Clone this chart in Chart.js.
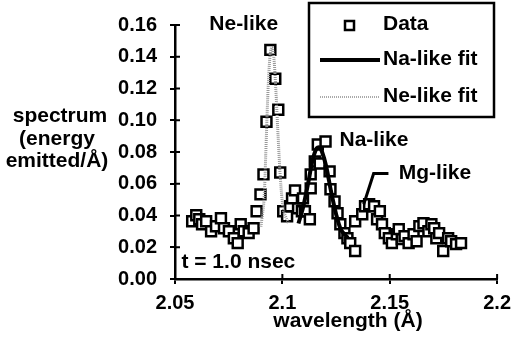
<!DOCTYPE html>
<html lang="en">
<head>
  <meta charset="UTF-8">
  <title>Spectrum at t = 1.0 nsec</title>
  <script src="https://cdn.jsdelivr.net/npm/chart.js"></script>
  <style>
    html, body { margin: 0; padding: 0; background: #fff; }
  </style>
</head>
<body>
  <canvas id="specChart" width="518" height="349"></canvas>
  <script>
    // measured spectrum (wavelength in Å, energy emitted/Å)
    const dataWl = [2.0580, 2.0599, 2.0613, 2.0626, 2.0645, 2.0668, 2.0691, 2.0714, 2.0728, 2.0751,
      2.0774, 2.0792, 2.0806, 2.0820, 2.0843, 2.0866, 2.0880, 2.0898, 2.0912, 2.0926,
      2.0944, 2.0967, 2.0981, 2.0990, 2.1004, 2.1022, 2.1036, 2.1045, 2.1059, 2.1073,
      2.1091, 2.1096, 2.1105, 2.1128, 2.1132, 2.1132, 2.1151, 2.1165, 2.1174, 2.1201,
      2.1220, 2.1224, 2.1243, 2.1257, 2.1270, 2.1289, 2.1303, 2.1316, 2.1339, 2.1339,
      2.1372, 2.1385, 2.1404, 2.1427, 2.1441, 2.1454, 2.1464, 2.1477, 2.1496, 2.1510,
      2.1533, 2.1542, 2.1556, 2.1569, 2.1588, 2.1611, 2.1625, 2.1638, 2.1657, 2.1680,
      2.1694, 2.1707, 2.1717, 2.1730, 2.1749, 2.1772, 2.1786, 2.1809, 2.1832];
    const dataVal = [0.0364, 0.0402, 0.0376, 0.0345, 0.0364, 0.0301, 0.0332, 0.0383, 0.0320, 0.0301,
      0.0257, 0.0226, 0.0345, 0.0301, 0.0289, 0.0320, 0.0427, 0.0533, 0.0659, 0.0991,
      0.1443, 0.1261, 0.1066, 0.0671, 0.0427, 0.0395, 0.0458, 0.0508, 0.0558, 0.0445,
      0.0427, 0.0508, 0.0427, 0.0376, 0.0571, 0.0659, 0.0740, 0.0847, 0.0728, 0.0866,
      0.0678, 0.0565, 0.0489, 0.0414, 0.0345, 0.0289, 0.0257, 0.0226, 0.0176, 0.0364,
      0.0408, 0.0458, 0.0471, 0.0458, 0.0376, 0.0427, 0.0345, 0.0289, 0.0257, 0.0226,
      0.0282, 0.0314, 0.0251, 0.0270, 0.0226, 0.0282, 0.0238, 0.0333, 0.0351, 0.0301,
      0.0345, 0.0320, 0.0257, 0.0289, 0.0176, 0.0257, 0.0238, 0.0220, 0.0226];

    // Na-like fit (solid black)
    const naFitWl = [2.1075, 2.1098, 2.1121, 2.1139, 2.1158, 2.1172, 2.1185, 2.1204, 2.1227, 2.1250, 2.1273, 2.1305];
    const naFitVal = [0.035, 0.046, 0.061, 0.074, 0.082, 0.083, 0.080, 0.071, 0.055, 0.041, 0.031, 0.026];

    // Ne-like fit (grey dotted)
    const neFitWl = [2.0900, 2.0914, 2.0923, 2.0932, 2.0942, 2.0951, 2.0960, 2.0969, 2.0979, 2.0992, 2.1006, 2.1029];
    const neFitVal = [0.033, 0.049, 0.080, 0.115, 0.140, 0.146, 0.140, 0.121, 0.093, 0.061, 0.043, 0.035];

    const xTicks = [2.05, 2.1, 2.15, 2.2];
    const yTicks = [0, 0.02, 0.04, 0.06, 0.08, 0.10, 0.12, 0.14, 0.16];

    const FONT = '"Liberation Sans", Arial, sans-serif';
    const zip = (xs, ys) => xs.map((v, i) => ({ x: v, y: ys[i] }));

    const extras = {
      id: 'extras',
      afterDraw(chart) {
        const ctx = chart.ctx;
        const sx = chart.scales.x, sy = chart.scales.y;
        ctx.save();
        ctx.strokeStyle = '#000';
        ctx.lineWidth = 2;
        // tick marks reaching into the plot too
        yTicks.forEach(v => {
          const py = sy.getPixelForValue(v);
          ctx.beginPath(); ctx.moveTo(sx.left, py); ctx.lineTo(sx.left + 5, py); ctx.stroke();
        });
        xTicks.forEach(v => {
          const px = sx.getPixelForValue(v);
          ctx.beginPath(); ctx.moveTo(px, sy.bottom); ctx.lineTo(px, sy.bottom - 5); ctx.stroke();
        });

        ctx.fillStyle = '#000';
        ctx.font = 'bold 21px ' + FONT;
        ctx.textBaseline = 'middle';
        const P = (wl, v) => [sx.getPixelForValue(wl), sy.getPixelForValue(v)];

        ctx.textAlign = 'center';
        let [a, b] = P(2.0820, 0.1606);
        ctx.fillText('Ne-like', a, b);
        ctx.textAlign = 'left';
        [a, b] = P(2.1266, 0.0872);
        ctx.fillText('Na-like', a, b);
        [a, b] = P(2.1542, 0.0665);
        ctx.fillText('Mg-like', a, b);
        [a, b] = P(2.0530, 0.0107);
        ctx.fillText('t = 1.0 nsec', a, b);

        // Mg-like pointer
        ctx.lineWidth = 3;
        ctx.beginPath();
        ctx.moveTo(...P(2.1494, 0.0665));
        ctx.lineTo(...P(2.1425, 0.0665));
        ctx.lineTo(...P(2.1379, 0.0471));
        ctx.stroke();

        // axis titles
        ctx.textAlign = 'center';
        ctx.fillText('spectrum', 60, 116);
        ctx.fillText('(energy', 57, 139);
        ctx.fillText('emitted/Å)', 57, 161);
        ctx.fillText('wavelength (Å)', 348, 321);

        // legend box
        ctx.lineWidth = 2.5;
        ctx.strokeRect(309, 3, 185, 114);
        ctx.textAlign = 'left';
        ctx.fillText('Data', 383, 24);
        ctx.fillText('Na-like fit', 383, 59);
        ctx.fillText('Ne-like fit', 383, 96);
        ctx.fillStyle = '#fff';
        ctx.lineWidth = 2.5;
        ctx.fillRect(345, 21, 9, 9);
        ctx.strokeRect(345, 21, 9, 9);
        ctx.lineWidth = 4;
        ctx.beginPath(); ctx.moveTo(320, 60); ctx.lineTo(380, 60); ctx.stroke();
        ctx.strokeStyle = '#aaa';
        ctx.lineWidth = 2;
        ctx.setLineDash([1, 1]);
        ctx.beginPath(); ctx.moveTo(320, 97); ctx.lineTo(380, 97); ctx.stroke();
        ctx.restore();
      }
    };

    new Chart(document.getElementById('specChart').getContext('2d'), {
      type: 'scatter',
      data: {
        datasets: [
          {
            label: 'Data',
            data: zip(dataWl, dataVal),
            pointStyle: 'rect',
            pointRadius: 7,
            pointBorderWidth: 2.5,
            pointBorderColor: '#000',
            pointBackgroundColor: '#fff',
            order: 3
          },
          {
            label: 'Na-like fit',
            data: zip(naFitWl, naFitVal),
            showLine: true,
            borderColor: '#000',
            borderWidth: 4,
            pointRadius: 0,
            tension: 0.3,
            order: 1
          },
          {
            label: 'Ne-like fit',
            data: zip(neFitWl, neFitVal),
            showLine: true,
            borderColor: '#999',
            borderWidth: 3,
            borderDash: [1, 1],
            pointRadius: 0,
            tension: 0.3,
            order: 2
          }
        ]
      },
      options: {
        responsive: false,
        animation: false,
        layout: { padding: { top: 23, right: 16, left: 0, bottom: 0 } },
        plugins: { legend: { display: false }, tooltip: { enabled: false } },
        scales: {
          x: {
            type: 'linear',
            min: 2.05,
            max: 2.2,
            afterFit: s => { s.height = 70; },
            afterBuildTicks: s => { s.ticks = xTicks.map(v => ({ value: v })); },
            ticks: {
              color: '#000',
              padding: 7,
              font: { family: FONT, size: 20, weight: 'bold' },
              callback: v => String(Number(v.toFixed(2)))
            },
            grid: { drawOnChartArea: false, color: '#000', lineWidth: 2, tickLength: 5 },
            border: { color: '#000', width: 2.5 }
          },
          y: {
            min: 0,
            max: 0.16,
            afterFit: s => { s.width = 175; },
            afterBuildTicks: s => { s.ticks = yTicks.map(v => ({ value: v })); },
            ticks: {
              color: '#000',
              padding: 13,
              font: { family: FONT, size: 20, weight: 'bold' },
              callback: v => v.toFixed(2)
            },
            grid: { drawOnChartArea: false, color: '#000', lineWidth: 2, tickLength: 5 },
            border: { color: '#000', width: 2.5 }
          }
        }
      },
      plugins: [extras]
    });
  </script>
</body>
</html>
